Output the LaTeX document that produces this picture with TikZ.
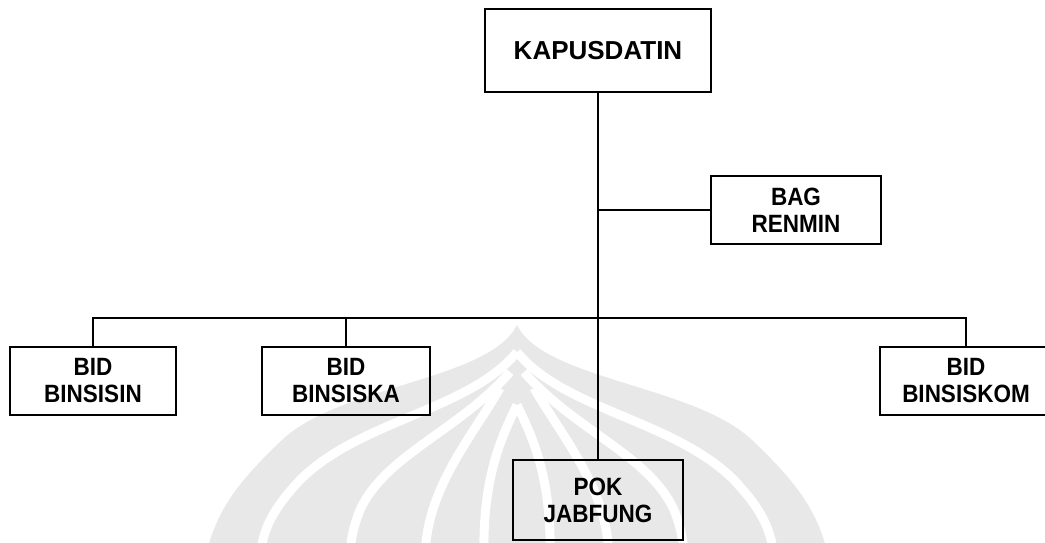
\documentclass[tikz,border=0pt]{standalone}
\usepackage{fontspec}
\setmainfont{Liberation Sans}[FakeStretch=0.9]
\newfontfamily\headfont{Liberation Sans}
\begin{document}
\begin{tikzpicture}[x=1pt,y=-1pt,
  unit/.style={draw, line width=1.8pt, align=center, inner sep=0pt,
    minimum width=168pt, minimum height=68pt,
    font=\fontsize{25}{27}\selectfont\bfseries},
  link/.style={line width=1.8pt},
  gap/.style={draw=white, line width=9pt, line cap=butt}]
\useasboundingbox (0,0) rectangle (1045,542);
\clip (0,0) rectangle (1045,542);

% faint emblem in the background: a pointed dome split by white curves
\fill[black!9] (517,325) .. controls (490,380) and (340,385) .. (282,440)
   .. controls (240,480) and (215,510) .. (205,560) -- (829,560)
   .. controls (819,510) and (794,480) .. (752,440)
   .. controls (694,385) and (544,380) .. (517,325) -- cycle;
\newcommand\makarahalf{%
  \draw[gap] (517,352) .. controls (470,410) and (360,420) .. (300,480)
        .. controls (272,510) and (262,530) .. (260,560);
  \draw[gap] (510,372) .. controls (460,430) and (385,455) .. (360,510)
        .. controls (352,530) and (350,545) .. (350,560);
  \draw[gap] (500,388) .. controls (470,440) and (425,490) .. (425,560);
  \draw[gap] (517,405) .. controls (500,440) and (482,480) .. (484,560);
}
\makarahalf
\begin{scope}[cm={-1,0,0,1,(1034pt,0)}]
  \makarahalf
\end{scope}

% organisation units
\node[unit, minimum width=226pt, minimum height=83pt,
      font=\headfont\fontsize{26}{30}\selectfont\bfseries] (kap) at (598,50.5) {KAPUSDATIN};
\node[unit, minimum width=170pt] (bag) at (796,210) {BAG\\RENMIN};
\node[unit, minimum width=166pt] (bin1) at (93,381) {BID\\BINSISIN};
\node[unit] (bin2) at (346,381) {BID\\BINSISKA};
\node[unit, minimum width=172pt] (bin3) at (966,381) {BID\\BINSISKOM};
\node[unit, minimum width=170pt, minimum height=80pt] (pok) at (598,500) {POK\\JABFUNG};

% connectors
\coordinate (bus) at (598,318);
\coordinate (tap) at (598,210);
\draw[link] (kap.south) -- (pok.north);
\draw[link] (tap) -- (bag.west);
\draw[link] (bin1.north) |- (bus) -| (bin3.north);
\draw[link] (bin2.north) -- (bin2.north |- bus);
\end{tikzpicture}
\end{document}
